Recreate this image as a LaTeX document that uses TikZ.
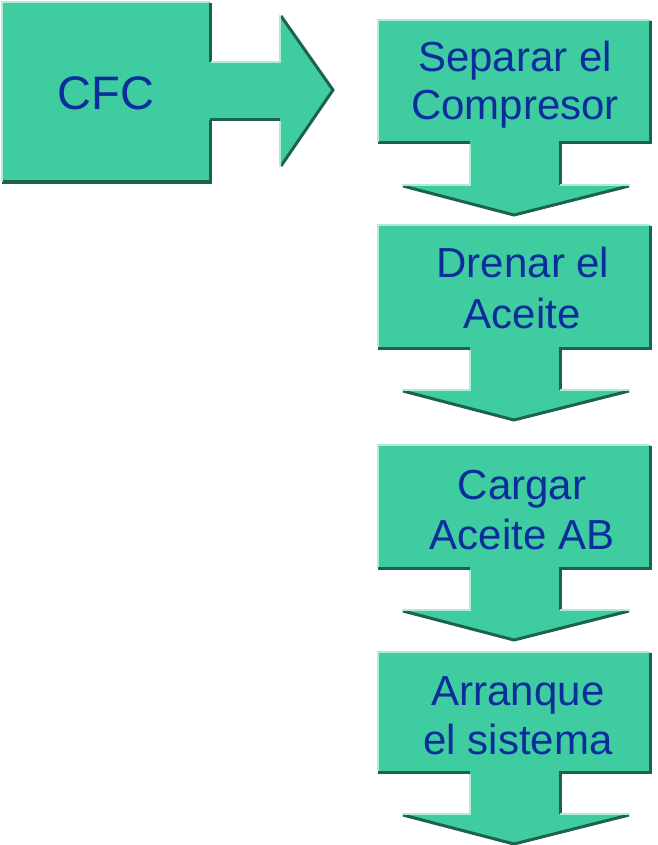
\documentclass[tikz,border=0pt]{standalone}
\usepackage{fontspec}
\setmainfont{Liberation Sans}
\definecolor{tealf}{RGB}{62,204,160}
\definecolor{tlight}{RGB}{175,236,216}
\definecolor{tdark}{RGB}{28,98,78}
\definecolor{tblue}{RGB}{10,45,155}
\tikzset{
  blockfill/.style={fill=tealf,draw=none},
  lightedge/.style={draw=tlight,line width=2.6pt},
  darkedge/.style={draw=tdark,line width=3pt},
  steptext/.style={text=tblue,font=\fontsize{42}{50}\selectfont,inner sep=0pt,anchor=base},
  cfctext/.style={text=tblue,font=\fontsize{47}{55}\selectfont,inner sep=0pt,anchor=base}
}
\begin{document}
\begin{tikzpicture}[x=1pt,y=-1pt]
\useasboundingbox (0,0) rectangle (657,845);
% CFC block arrow
\fill[blockfill] (2,2)--(210,2)--(210,62)--(280,62)--(280,15)--(332,90)--(280,167)--(280,120)--(210,120)--(210,182)--(2,182)--cycle;
\draw[darkedge] (210,3)--(210,62);
\draw[darkedge] (210,120)--(210,182)--(2,182);
\draw[darkedge] (210,120)--(280,120);
\draw[darkedge] (281,16)--(333,90)--(281,166);
\draw[lightedge] (2,182)--(2,2)--(209,2);
\draw[lightedge] (211,62)--(280,62)--(280,15);
\draw[lightedge] (280,121)--(280,167);
\node[cfctext] (cfc) at (106,110) {CFC};
% down block arrows
\foreach \T/\B [count=\i] in {20/143,225/348,445/568,652/772}{
  \fill[blockfill] (378,\T)--(650,\T)--(650,\B)--(560,\B)--(560,\B+42)--(630,\B+42)--(514,\B+72)--(402,\B+42)--(470,\B+42)--(470,\B)--(378,\B)--cycle;
  \draw[darkedge] (650,\T+1)--(650,\B)--(560,\B)--(560,\B+42);
  \draw[darkedge] (378,\B)--(470,\B);
  \draw[darkedge] (403,\B+43)--(514,\B+72)--(629,\B+43);
  \draw[lightedge] (378,\B-1)--(378,\T)--(649,\T);
  \draw[lightedge] (470,\B+2)--(470,\B+42)--(402,\B+42);
  \draw[lightedge] (560,\B+42)--(630,\B+42);
}
\node[steptext] (s1a) at (515,72) {Separar el};
\node[steptext] (s1b) at (515,120) {Compresor};
\node[steptext] (s2a) at (523,277) {Drenar el};
\node[steptext] (s2b) at (522,328) {Aceite};
\node[steptext] (s3a) at (522,499) {Cargar};
\node[steptext] (s3b) at (522,549) {Aceite AB};
\node[steptext] (s4a) at (518,705) {Arranque};
\node[steptext] (s4b) at (518,754) {el sistema};
\end{tikzpicture}
\end{document}
